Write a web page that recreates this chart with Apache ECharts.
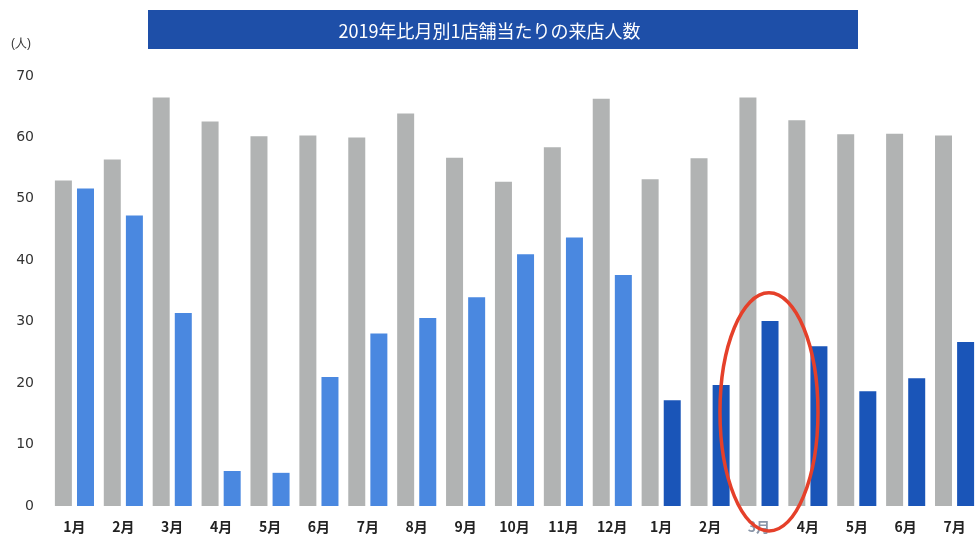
<!DOCTYPE html>
<html>
<head>
<meta charset="utf-8">
<script src="https://cdn.jsdelivr.net/npm/echarts@6/dist/echarts.min.js"></script>
<style>html,body{margin:0;padding:0;background:#fff;}#c{width:979px;height:542px;}</style>
</head>
<body>
<div id="c"></div>
<script>
const categories = ['1月','2月','3月','4月','5月','6月','7月','8月','9月','10月','11月','12月','1月','2月','3月','4月','5月','6月','7月'];
const baseline2019 = [53.0,56.4,66.5,62.6,60.2,60.3,60.0,63.9,56.7,52.8,58.4,66.3,53.2,56.6,66.5,62.8,60.5,60.6,60.3];
const visitors = [51.7,47.3,31.4,5.7,5.4,21.0,28.1,30.6,34.0,41.0,43.7,37.6,17.2,19.7,30.1,26.0,18.7,20.8,26.7];
const yTicks = [0,10,20,30,40,50,60,70];
const titleText = '2019年比月別1店舗当たりの来店人数';
const highlightIndex = 14;

const lightBlue = '#4a88e0', darkBlue = '#1a55b8', grayC = '#b1b3b3';

const chart = echarts.init(document.getElementById('c'));
chart.setOption({
  animation: false,
  backgroundColor: '#fff',
  title: {
    text: titleText, left: 'center', top: 17,
    textStyle: {color: '#fff', fontSize: 18, fontWeight: 'normal', fontFamily: 'Noto Sans CJK JP'}
  },
  graphic: [{
    type: 'rect', z: -1, shape: {x: 148, y: 10, width: 710, height: 39},
    style: {fill: '#1e4fa8'}
  },{
    type: 'text', left: 11, top: 38,
    style: {text: '(人)', fill: '#333', font: '14px "Noto Sans CJK JP"'}
  }],
  grid: {left: 50, right: -10, top: 76, bottom: 36, containLabel: false},
  xAxis: {
    type: 'category', data: categories,
    axisLine: {show: false}, axisTick: {show: false},
    axisLabel: {
      interval: 0,
      margin: 14, fontSize: 14, fontWeight: 'bold', color: '#222', fontFamily: 'Noto Sans CJK JP',
      formatter: (v, i) => i === highlightIndex ? '{f|' + v + '}' : v,
      rich: {f: {color: '#8a96a8', fontSize: 14, fontWeight: 'bold', fontFamily: 'Noto Sans CJK JP'}}
    }
  },
  yAxis: {
    type: 'value', min: 0, max: 70, interval: 10,
    axisLine: {show: false}, axisTick: {show: false}, splitLine: {show: false},
    axisLabel: {
      margin: 16, fontSize: 14, color: '#333', fontFamily: 'DejaVu Sans',
      formatter: v => yTicks.includes(v) ? String(v) : ''
    }
  },
  series: [{
    type: 'bar', data: baseline2019, barWidth: 17, barGap: '30%',
    itemStyle: {color: grayC}
  },{
    type: 'bar', data: visitors.map((v, i) => ({value: v, itemStyle: {color: i < 12 ? lightBlue : darkBlue}})),
    barWidth: 17, barGap: '30%'
  }]
});

const basePt = chart.convertToPixel({gridIndex: 0}, [highlightIndex, 0]);
const topPt = chart.convertToPixel({gridIndex: 0}, [highlightIndex, 34.7]);
chart.setOption({
  graphic: [{},{},{
    type: 'ellipse', z: 10,
    shape: {cx: basePt[0] + 10, cy: (topPt[1] + basePt[1] + 25) / 2, rx: 49, ry: (basePt[1] + 25 - topPt[1]) / 2},
    style: {fill: 'none', stroke: '#e5402a', lineWidth: 3.5}
  }]
});
</script>
</body>
</html>
